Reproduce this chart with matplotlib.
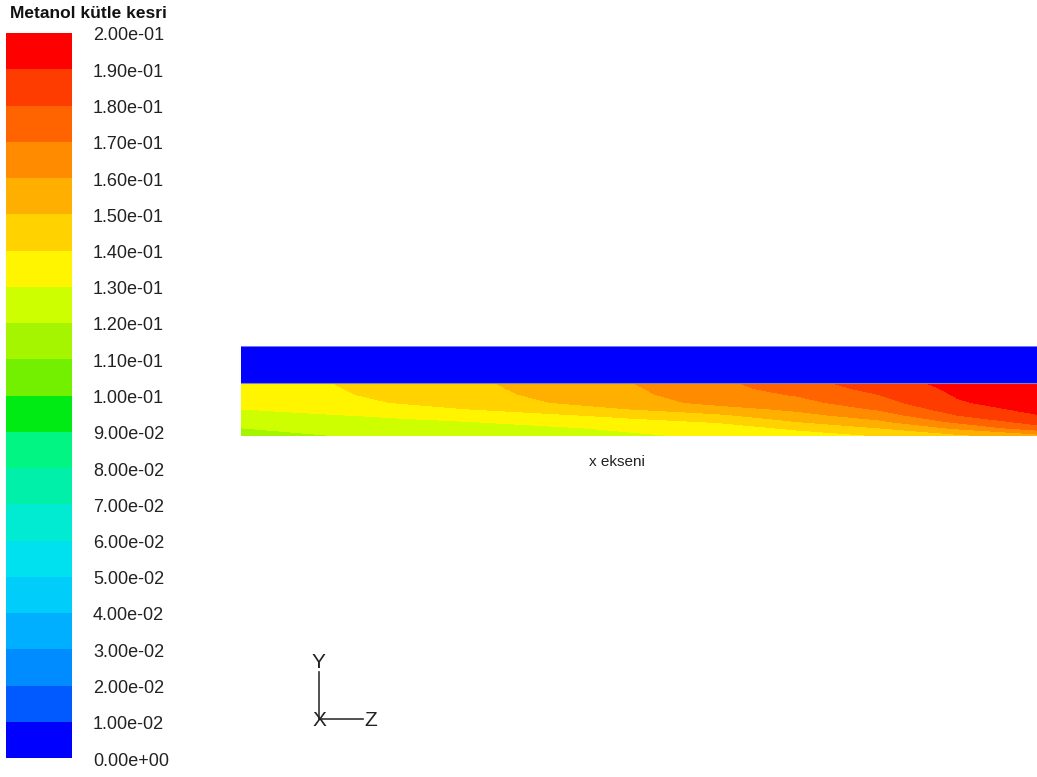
import numpy as np
import matplotlib
matplotlib.use('Agg')
import matplotlib.pyplot as plt
from matplotlib.colors import ListedColormap, BoundaryNorm
from matplotlib.cm import ScalarMappable

plt.rcParams['font.family'] = ['Liberation Sans', 'DejaVu Sans']

# contour levels of methanol mass fraction
levels = [0.00, 0.01, 0.02, 0.03, 0.04, 0.05, 0.06, 0.07, 0.08, 0.09, 0.10,
          0.11, 0.12, 0.13, 0.14, 0.15, 0.16, 0.17, 0.18, 0.19, 0.20]
level_labels = ['%.2e' % v for v in levels]

# banded rainbow map, blue (low) -> red (high)
band_colors = ['#0000ff', '#005aff', '#008cff', '#00afff', '#00cdfa',
               '#00e1f0', '#00ebd2', '#00f0aa', '#00f582', '#00eb14',
               '#73f000', '#a5f500', '#cdff00', '#fff500', '#ffd200',
               '#ffaf00', '#ff8c00', '#ff6400', '#ff3c00', '#ff0000']

# liquid layer: x stations (mm), heights (mm) and mass fraction values
x_mm = [0, 10, 20, 30, 40, 50, 60, 70, 80, 90, 100]
y_liquid = [0.0, 1.0, 1.75, 2.55, 3.3, 4.1, 5.1, 5.8, 6.5]
mass_frac = [
    [0.1170, 0.1195, 0.1218, 0.1241, 0.1264, 0.1287, 0.1315, 0.1350, 0.1400, 0.1470, 0.1550],
    [0.1200, 0.1223, 0.1245, 0.1268, 0.1291, 0.1321, 0.1356, 0.1420, 0.1500, 0.1620, 0.1760],
    [0.1233, 0.1255, 0.1278, 0.1302, 0.1336, 0.1371, 0.1408, 0.1500, 0.1580, 0.1720, 0.1840],
    [0.1267, 0.1290, 0.1319, 0.1354, 0.1388, 0.1433, 0.1483, 0.1570, 0.1650, 0.1800, 0.1895],
    [0.1300, 0.1334, 0.1369, 0.1405, 0.1455, 0.1506, 0.1564, 0.1620, 0.1710, 0.1850, 0.1930],
    [0.1335, 0.1369, 0.1405, 0.1455, 0.1506, 0.1564, 0.1628, 0.1670, 0.1760, 0.1890, 0.1950],
    [0.1348, 0.1382, 0.1424, 0.1474, 0.1528, 0.1586, 0.1656, 0.1710, 0.1800, 0.1910, 0.1970],
    [0.1353, 0.1387, 0.1432, 0.1482, 0.1537, 0.1595, 0.1668, 0.1740, 0.1830, 0.1920, 0.1980],
    [0.1358, 0.1393, 0.1439, 0.1489, 0.1546, 0.1605, 0.1679, 0.1760, 0.1855, 0.1930, 0.1990],
]

# gas layer above the liquid has no methanol
y_gas = [6.5, 11.0]
gas_frac = [[0.0]]

cmap = ListedColormap(band_colors)
norm = BoundaryNorm(levels, cmap.N)

W, H = 1037, 777
fig = plt.figure(figsize=(W / 100, H / 100), dpi=100)

# domain
ax = fig.add_axes([241 / W, 1 - 436 / H, 796 / W, 90 / H])
ax.contourf(x_mm, y_liquid, mass_frac, levels=levels, colors=band_colors)
ax.pcolormesh([x_mm[0], x_mm[-1]], y_gas, gas_frac, cmap=cmap, norm=norm)
ax.axhline(y_gas[0], color='#8080c0', lw=0.8)
ax.axhline(y_gas[1], color='#9090e0', lw=0.6)
ax.set_xlim(x_mm[0], x_mm[-1])
ax.set_ylim(0, y_gas[1])
ax.axis('off')

fig.text(617 / W, 1 - 462 / H, 'x ekseni', ha='center', va='center',
         fontsize=11, color='#222222')

# colour bar
cax = fig.add_axes([6 / W, 1 - 758 / H, 66 / W, 725 / H])
cb = fig.colorbar(ScalarMappable(norm=norm, cmap=cmap), cax=cax, ticks=levels)
cb.outline.set_visible(False)
cb.ax.tick_params(length=0)
cb.ax.set_yticklabels([])
for v, lab in zip(levels, level_labels):
    cax.annotate(lab, xy=(1, v), xycoords=('axes fraction', 'data'),
                 xytext=(21, -3), textcoords='offset pixels',
                 ha='left', va='center', fontsize=13, color='#222222')

fig.text(10 / W, 1 - 14 / H, 'Metanol kütle kesri', ha='left', va='center',
         fontsize=12.5, fontweight='bold', color='#111111')

# axis triad
tri = fig.add_axes([0, 0, 1, 1], facecolor='none')
tri.set_xlim(0, W)
tri.set_ylim(H, 0)
tri.axis('off')
tri.plot([319, 319], [672, 719], color='#333333', lw=1.2)
tri.plot([319, 363], [719, 719], color='#333333', lw=1.2)
tri.text(318, 663, 'Y', ha='center', va='center', fontsize=15, color='#222222')
tri.text(319, 721, 'X', ha='center', va='center', fontsize=15, color='#222222')
tri.text(371, 721, 'Z', ha='center', va='center', fontsize=15, color='#222222')

fig.savefig('out.png', dpi=100, facecolor='white')
